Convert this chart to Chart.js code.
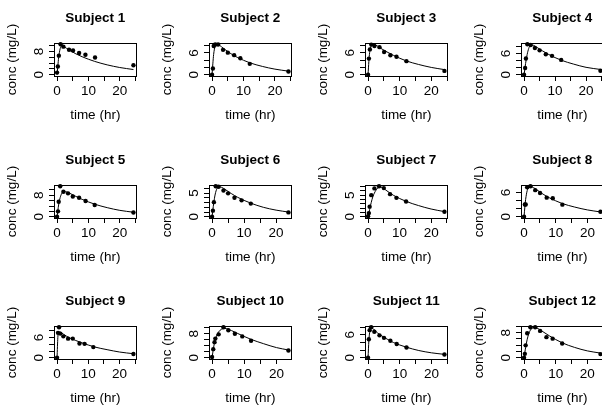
<!DOCTYPE html>
<html>
<head>
<meta charset="utf-8">
<script src="https://cdn.jsdelivr.net/npm/chart.js@4.4.0/dist/chart.umd.min.js"></script>
<style>
  html, body { margin: 0; padding: 0; background: #fff; overflow: hidden; }
  #wrap { position: relative; width: 602px; height: 407px; overflow: hidden; }
  .panel { position: absolute; width: 147px; height: 121px; }
</style>
</head>
<body>
<div id="wrap"></div>
<script>
// ── DATA ─────────────────────────────────────────
const subjects = ['Subject 1','Subject 2','Subject 3','Subject 4','Subject 5','Subject 6',
                  'Subject 7','Subject 8','Subject 9','Subject 10','Subject 11','Subject 12'];

// sampling times (hr) per subject
const times = [
  [0,0.25,0.57,1.12,2.02,3.82,5.10,7.03,9.05,12.12,24.37],
  [0,0.27,0.52,1.00,1.92,3.50,5.02,7.03,9.00,12.00,24.30],
  [0,0.27,0.58,1.02,2.02,3.62,5.08,7.07,9.00,12.15,24.17],
  [0,0.35,0.60,1.07,2.13,3.50,5.02,7.02,9.02,11.98,24.65],
  [0,0.30,0.52,1.00,2.02,3.50,5.02,7.02,9.10,12.00,24.35],
  [0,0.27,0.58,1.15,2.03,3.57,5.00,7.00,9.22,12.10,23.85],
  [0,0.25,0.50,1.02,2.02,3.48,5.00,6.98,9.00,12.05,24.22],
  [0,0.25,0.52,0.98,2.02,3.53,5.05,7.15,9.07,12.10,24.12],
  [0,0.30,0.63,1.05,2.02,3.53,5.02,7.17,8.80,11.60,24.43],
  [0,0.37,0.77,1.02,2.05,3.55,5.05,7.08,9.38,12.10,23.70],
  [0,0.25,0.50,0.98,1.98,3.60,5.02,7.03,9.03,12.12,24.08],
  [0,0.25,0.50,1.00,2.00,3.52,5.07,7.07,9.03,12.05,24.15]
];

// observed concentration (mg/L)
const concs = [
  [0.74,2.84,6.57,10.50,9.66,8.58,8.36,7.47,6.89,5.94,3.28],
  [0.00,1.72,7.91,8.31,8.33,6.85,6.08,5.40,4.55,3.01,0.90],
  [0.00,4.40,6.90,8.20,7.80,7.50,6.20,5.30,4.90,3.70,1.05],
  [0.00,1.89,4.60,8.60,8.38,7.54,6.88,5.78,5.33,4.19,1.15],
  [0.00,2.02,5.63,11.40,9.33,8.74,7.56,7.09,5.90,4.37,1.57],
  [0.00,1.29,3.08,6.44,6.32,5.53,4.94,4.02,3.46,2.78,0.92],
  [0.15,0.85,2.35,5.02,6.58,7.09,6.66,5.25,4.39,3.53,1.15],
  [0.00,3.05,3.05,7.31,7.56,6.59,5.88,4.73,4.57,3.00,1.25],
  [0.00,7.37,9.03,7.14,6.33,5.66,5.67,4.24,4.11,3.16,1.12],
  [0.24,2.89,5.22,6.41,7.83,10.21,9.18,8.02,7.14,5.68,2.42],
  [0.00,4.86,7.24,8.00,6.81,5.87,5.22,4.45,3.62,2.69,0.86],
  [0.00,1.25,3.96,7.82,9.72,9.75,8.57,6.59,6.11,4.57,1.17]
];

// fitted curve, read at these times plus each subject's last sampling time
const fitTimes = [0,0.25,0.5,1,1.5,2,3,4,6,8,12,16,20];
const fitConcs = [
  [0,3.0,5.8,9.0,9.9,9.8,9.1,8.4,7.2,6.2,4.6,3.4,2.5,1.8],
  [0,3.0,5.6,7.9,8.4,8.3,7.7,7.0,5.8,4.8,3.3,2.3,1.55,1.0],
  [0,3.6,6.0,7.9,8.3,8.2,7.8,7.2,6.2,5.3,3.8,2.8,2.0,1.4],
  [0,1.6,3.2,5.7,7.4,8.2,8.3,7.8,6.7,5.7,4.1,3.0,2.1,1.5],
  [0,2.3,4.4,7.2,8.7,9.3,9.3,8.8,7.6,6.5,4.7,3.4,2.4,1.7],
  [0,1.4,2.8,4.8,5.9,6.3,6.2,5.8,4.9,4.1,2.9,2.0,1.4,1.0],
  [0,0.8,1.7,3.3,4.6,5.5,6.6,6.9,6.0,5.0,3.6,2.6,1.8,1.2],
  [0,2.4,4.3,6.5,7.3,7.5,7.2,6.7,5.6,4.7,3.3,2.4,1.7,1.2],
  [0,6.0,7.5,7.6,7.3,7.0,6.4,5.9,5.1,4.4,3.2,2.4,1.7,1.2],
  [0,1.9,3.6,6.1,7.6,8.6,9.6,9.8,9.1,8.1,6.2,4.7,3.4,2.6],
  [0,4.4,6.6,7.9,7.7,7.3,6.5,5.9,4.9,4.0,2.8,1.9,1.3,0.9],
  [0,1.7,3.3,5.9,7.7,8.8,9.6,9.5,8.3,7.0,4.8,3.3,2.2,1.5]
];

// axis ticks
const xStep = 5;
const xLabels = [0,10,20];
const yStep = [2,2,2,2,2,1,1,2,2,2,2,2];
const yLabels = [[0,8],[0,6],[0,6],[0,6],[0,8],[0,5],[0,5],[0,6],[0,6],[0,8],[0,6],[0,8]];

// ── STYLE ────────────────────────────────────────
const FONT = "'Liberation Sans', Arial, Helvetica, sans-serif";
const INK = '#000';
Chart.defaults.font.family = FONT;
Chart.defaults.color = INK;

const colLeft = [0, 155, 311, 467];

const frame = pos => ({
  type: 'linear', position: pos, display: true,
  ticks: { display: false }, grid: { display: false },
  border: { display: true, color: INK, width: 1 },
  afterFit: s => { if (s.isHorizontal()) s.height = 0; else s.width = 0; }
});

// ── PANELS ───────────────────────────────────────
function makePanel(i) {
  const col = i % 4, row = Math.floor(i / 4);
  const div = document.createElement('div');
  div.className = 'panel';
  div.style.left = colLeft[col] + 'px';
  div.style.top = (3 + Math.round(row * 141.7)) + 'px';
  const cv = document.createElement('canvas');
  div.appendChild(cv);
  document.getElementById('wrap').appendChild(div);

  const t = times[i], c = concs[i];
  const tEnd = t[t.length - 1];
  const pts = t.map((x, k) => ({ x, y: c[k] }));
  const fit = fitConcs[i].map((y, k) => ({ x: k < fitTimes.length ? fitTimes[k] : tEnd, y }));
  const yTop = Math.max(...c, ...fitConcs[i]);

  new Chart(cv, {
    type: 'scatter',
    data: {
      datasets: [
        { data: pts, pointRadius: 2.2, pointBackgroundColor: INK, pointBorderWidth: 0, clip: false },
        { data: fit, showLine: true, pointRadius: 0, borderColor: INK, borderWidth: 1,
          cubicInterpolationMode: 'monotone', clip: false }
      ]
    },
    options: {
      responsive: true, maintainAspectRatio: false, animation: false,
      layout: { padding: { left: 0, right: 10.5, top: 0, bottom: 0 } },
      plugins: {
        legend: { display: false }, tooltip: { enabled: false },
        title: { display: true, text: subjects[i], color: INK, fullSize: false, align: 'center',
                 font: { size: 13.5, weight: 'bold', lineHeight: 1.2 },
                 padding: { top: 7.5, bottom: 16.3 } }
      },
      scales: {
        x: {
          type: 'linear', position: 'bottom',
          min: -0.04 * tEnd, max: 1.04 * tEnd,
          afterFit: s => { s.height = 48; },
          ticks: { stepSize: xStep, includeBounds: false, autoSkip: false, maxRotation: 0,
                   color: INK, font: { size: 13.5 }, padding: 2.2,
                   callback: v => xLabels.includes(v) ? String(v) : '' },
          grid: { display: true, drawOnChartArea: false, drawTicks: true, tickLength: 5, color: INK, lineWidth: 1 },
          border: { display: true, color: INK, width: 1 },
          title: { display: true, text: 'time (hr)', color: INK, font: { size: 13.5 },
                   padding: { top: 0, bottom: 0.6 } }
        },
        y: {
          type: 'linear', position: 'left',
          min: -0.04 * yTop, max: 1.04 * yTop,
          afterFit: s => { s.width = 54; },
          ticks: { stepSize: yStep[i], includeBounds: false, autoSkip: false,
                   minRotation: 90, maxRotation: 90, crossAlign: 'center',
                   color: INK, font: { size: 13.5 }, padding: 6.2,
                   callback: v => yLabels[i].includes(v) ? String(v) : '' },
          grid: { display: true, drawOnChartArea: false, drawTicks: true, tickLength: 5, color: INK, lineWidth: 1 },
          border: { display: true, color: INK, width: 1 },
          title: { display: true, text: 'conc (mg/L)', color: INK, font: { size: 13.5 },
                   padding: { top: 4.4, bottom: 0 } }
        },
        x2: frame('top'),
        y2: frame('right')
      }
    }
  });
}

subjects.forEach((_, i) => makePanel(i));
</script>
</body>
</html>
